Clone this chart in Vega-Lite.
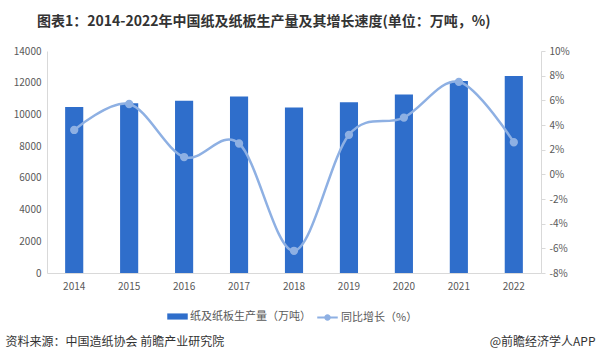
{
  "$schema": "https://vega.github.io/schema/vega-lite/v6.json",
  "width": 494,
  "height": 222,
  "autosize": {"type": "none"},
  "padding": {"left": 47, "top": 51, "right": 58, "bottom": 89},
  "background": "white",
  "config": {
    "font": "Noto Sans CJK SC",
    "view": {"stroke": null},
    "axis": {"labelColor": "#595959", "labelFontSize": 10, "grid": false, "domainColor": "#d9d9d9", "tickColor": "#d9d9d9"},
    "legend": {"labelColor": "#595959", "labelFontSize": 11}
  },
  "title": {
    "text": "图表1：2014-2022年中国纸及纸板生产量及其增长速度(单位：万吨，%)",
    "fontSize": 14,
    "fontWeight": "bold",
    "color": "#333333",
    "anchor": "start",
    "frame": "group",
    "dx": -10,
    "offset": 17
  },
  "data": {
    "values": [
      {"year": "2014", "output": 10470, "growth": 0.036},
      {"year": "2015", "output": 10710, "growth": 0.057},
      {"year": "2016", "output": 10855, "growth": 0.014},
      {"year": "2017", "output": 11130, "growth": 0.025},
      {"year": "2018", "output": 10435, "growth": -0.062},
      {"year": "2019", "output": 10765, "growth": 0.032},
      {"year": "2020", "output": 11260, "growth": 0.046},
      {"year": "2021", "output": 12105, "growth": 0.075},
      {"year": "2022", "output": 12425, "growth": 0.026}
    ]
  },
  "encoding": {
    "x": {
      "field": "year",
      "type": "ordinal",
      "scale": {"paddingInner": 0.67, "paddingOuter": 0.33},
      "axis": {
        "labelAngle": 0,
        "ticks": false,
        "labelPadding": 8,
        "title": "资料来源：中国造纸协会 前瞻产业研究院",
        "titleFontSize": 12,
        "titleFontWeight": "normal",
        "titleColor": "#333333",
        "titleAnchor": "start",
        "titleAlign": "left",
        "titleBaseline": "middle",
        "titleX": -42,
        "titleY": 68
      }
    }
  },
  "layer": [
    {
      "mark": {"type": "bar", "color": "#2f6ecb"},
      "encoding": {
        "y": {
          "field": "output",
          "type": "quantitative",
          "scale": {"domain": [0, 14000]},
          "axis": {"values": [0, 2000, 4000, 6000, 8000, 10000, 12000, 14000], "format": "d", "title": null, "ticks": false, "labelPadding": 6, "domain": true}
        },
        "color": {
          "datum": "纸及纸板生产量（万吨）",
          "scale": {"range": ["#2f6ecb"]},
          "legend": {
            "orient": "none",
            "legendX": 120,
            "legendY": 255,
            "title": null,
            "symbolType": "M-1,-0.3H1V0.3H-1Z",
            "symbolSize": 420,
            "symbolStrokeWidth": 0,
            "labelOffset": 2
          }
        }
      }
    },
    {
      "mark": {"type": "line", "interpolate": "cardinal", "color": "#8eb0e3", "strokeWidth": 2.5, "point": {"filled": true, "size": 40, "color": "#8eb0e3"}},
      "encoding": {
        "y": {
          "field": "growth",
          "type": "quantitative",
          "scale": {"domain": [-0.08, 0.1]},
          "axis": {
            "orient": "right",
            "values": [-0.08, -0.06, -0.04, -0.02, 0, 0.02, 0.04, 0.06, 0.08, 0.1],
            "format": ".0%",
            "labelExpr": "replace(datum.label, '−', '-')",
            "tickSize": 4,
            "labelPadding": 4,
            "title": "@前瞻经济学人APP",
            "titleAngle": 0,
            "titleFontSize": 12,
            "titleFontWeight": "normal",
            "titleColor": "#333333",
            "titleAlign": "right",
            "titleBaseline": "middle",
            "titleX": 54,
            "titleY": 290
          }
        },
        "stroke": {
          "datum": "同比增长（%）",
          "scale": {"range": ["#8eb0e3"]},
          "legend": {
            "orient": "none",
            "legendX": 269,
            "legendY": 255,
            "title": null,
            "symbolType": "M-1,0H1M0.22,0A0.22,0.22 0 1,1 -0.22,0A0.22,0.22 0 1,1 0.22,0Z",
            "symbolSize": 420,
            "symbolStrokeWidth": 2,
            "symbolFillColor": "#8eb0e3",
            "labelOffset": 2
          }
        }
      }
    }
  ],
  "resolve": {"scale": {"y": "independent", "color": "independent"}}
}
